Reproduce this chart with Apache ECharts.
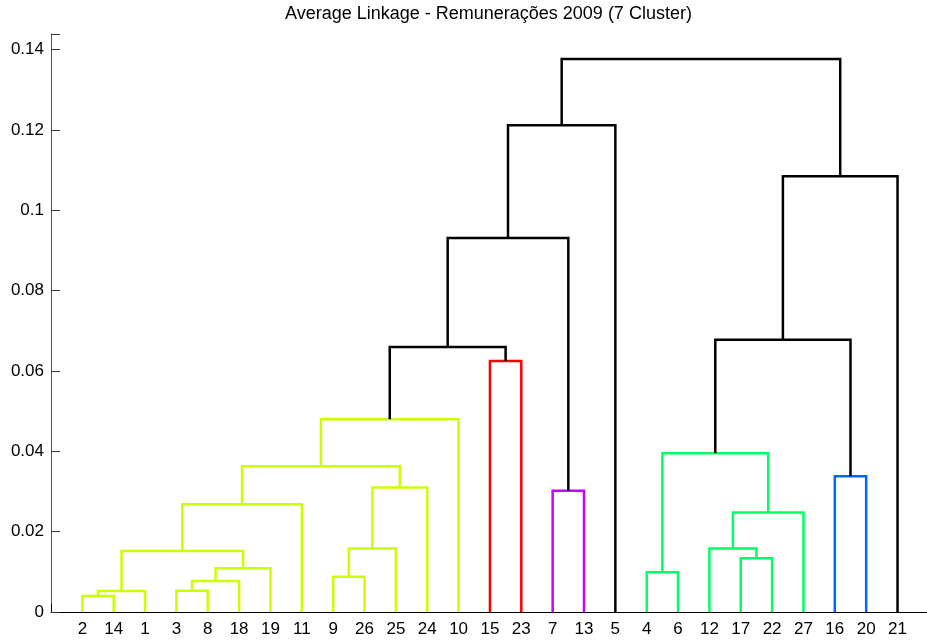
<!DOCTYPE html>
<html>
<head>
<meta charset="utf-8">
<script src="https://cdn.jsdelivr.net/npm/echarts@6/dist/echarts.min.js"></script>
<style>html,body{margin:0;padding:0;background:#fff}#c{width:927px;height:642px}</style>
</head>
<body>
<div id="c"></div>
<script>
// Leaf order along the x axis (tick labels)
const leafOrder = [2,14,1,3,8,18,19,11,9,26,25,24,10,15,23,7,13,5,4,6,12,17,22,27,16,20,21];
// Linkage merges: node (28 + k) joins mergeLeft[k] and mergeRight[k] at mergeHeight[k]
const mergeLeft  = [2,28,3,30,31,29,33,9,35,36,34,38,15,39,7,41,43,4,17,12,47,45,16,49,51,44];
const mergeRight = [14,1,8,18,19,32,11,26,25,24,37,10,23,40,13,42,5,6,22,46,27,48,20,50,21,52];
const mergeHeight = [0.0040,0.0052,0.0053,0.0077,0.0109,0.0152,0.0268,0.0088,0.0158,0.0310,0.0363,0.0480,
                     0.0625,0.0660,0.0302,0.0931,0.1212,0.0099,0.0134,0.0158,0.0248,0.0395,0.0338,0.0678,0.1085,0.1377];
// cluster index of each merge (-1 = above the cut, black)
const mergeCluster = [1,1,1,1,1,1,1,1,1,1,1,1,0,-1,4,-1,-1,2,2,2,2,2,3,-1,-1,-1];
const clusterColors = ['#FF0000','#CCFF00','#00FF66','#0066FF','#CC00FF'];
const yTicks = [0,0.02,0.04,0.06,0.08,0.1,0.12,0.14];

const nLeaves = leafOrder.length;
const pos = {};
leafOrder.forEach((id, i) => { pos[id] = {x: i + 1, h: 0}; });
const linkData = [];
mergeLeft.forEach((a, k) => {
  const b = mergeRight[k], h = mergeHeight[k];
  const pa = pos[a], pb = pos[b];
  pos[nLeaves + 1 + k] = {x: (pa.x + pb.x) / 2, h: h};
  const c = mergeCluster[k] < 0 ? '#000000' : clusterColors[mergeCluster[k]];
  linkData.push({
    coords: [[pa.x, pa.h], [pa.x, h], [pb.x, h], [pb.x, pb.h]],
    lineStyle: {color: c}
  });
});

const font = 'Liberation Sans, Arial, sans-serif';
const chart = echarts.init(document.getElementById('c'), null, {renderer: 'canvas'});
chart.setOption({
  animation: false,
  backgroundColor: '#ffffff',
  title: {
    text: 'Average Linkage - Remunerações 2009 (7 Cluster)',
    left: 280, top: 0,
    textStyle: {fontFamily: font, fontSize: 18, fontWeight: 'normal', color: '#000'}
  },
  grid: {left: 51, top: 34, right: 0, height: 578, containLabel: false},
  xAxis: {
    type: 'value', min: 0, max: 27.94, interval: 1,
    axisLine: {lineStyle: {color: '#000', width: 1}},
    axisTick: {inside: true, length: 8, lineStyle: {color: '#000'}},
    splitLine: {show: false},
    axisLabel: {
      margin: 9, fontFamily: font, fontSize: 17, color: '#000',
      showMaxLabel: false,
      formatter: v => (Number.isInteger(v) && v >= 1 && v <= nLeaves) ? String(leafOrder[v - 1]) : ''
    }
  },
  yAxis: {
    type: 'value', min: 0, max: 0.1439, interval: 0.02,
    axisLine: {show: true, lineStyle: {color: '#555', width: 1}},
    axisTick: {show: true, inside: true, length: 9, lineStyle: {color: '#333'}},
    splitLine: {show: false},
    axisLabel: {
      margin: 7, fontFamily: font, fontSize: 17, color: '#000',
      formatter: v => {
        const t = yTicks.find(t => Math.abs(t - v) < 1e-9);
        return t === undefined ? '' : String(t);
      }
    }
  },
  series: [{
    type: 'lines',
    coordinateSystem: 'cartesian2d',
    polyline: true,
    silent: true,
    lineStyle: {width: 2.5, opacity: 1},
    data: linkData
  }]
});
</script>
</body>
</html>
